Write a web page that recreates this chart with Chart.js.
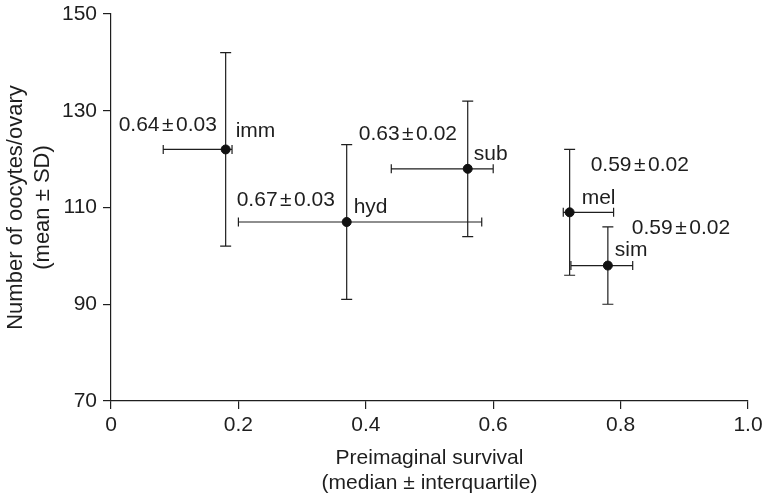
<!DOCTYPE html>
<html>
<head>
<meta charset="utf-8">
<script src="https://cdn.jsdelivr.net/npm/chart.js@4.4.1/dist/chart.umd.min.js"></script>
<style>
  html, body { margin: 0; padding: 0; background: #fff; }
  canvas { display: block; }
</style>
</head>
<body>
<canvas id="survivalChart" width="762" height="500"></canvas>
<script>
// species codes
const species = ["imm", "hyd", "sub", "mel", "sim"];
// preimaginal survival: median with interquartile range
const survivalMedian = [0.18, 0.37, 0.56, 0.72, 0.78];
const survivalLow = [0.082, 0.20, 0.44, 0.71, 0.722];
const survivalHigh = [0.19, 0.582, 0.60, 0.789, 0.819];
// oocytes per ovary: mean and SD
const oocyteMean = [122, 107, 118, 109, 98];
const oocyteSD = [20, 16, 14, 13, 8];
// value printed next to each species
const printedValue = [0.64, 0.67, 0.63, 0.59, 0.59];
const printedError = [0.03, 0.03, 0.02, 0.02, 0.02];

const xTicks = [0, 0.2, 0.4, 0.6, 0.8, 1.0];
const yTicks = [70, 90, 110, 130, 150];

// where the two text labels sit relative to each point (px)
const valueOffset = [[-107, -24], [-110, -22], [-109, -35], [21, -47], [24, -37]];
const nameOffset = [[10, -18], [7, -15], [6, -15], [12, -14], [7, -15]];

const ink = "#1e1e1e";
const fontFamily = '"Liberation Sans", Arial, Helvetica, sans-serif';
Chart.defaults.font.family = fontFamily;
Chart.defaults.color = ink;

// whiskers in both directions, drawn under the points
const errorBars = {
  id: "errorBars",
  beforeDatasetsDraw(chart) {
    const { ctx, scales: { x, y } } = chart;
    ctx.save();
    ctx.strokeStyle = ink;
    ctx.lineWidth = 1.2;
    species.forEach((s, i) => {
      const px = x.getPixelForValue(survivalMedian[i]);
      const py = y.getPixelForValue(oocyteMean[i]);
      const xl = x.getPixelForValue(survivalLow[i]);
      const xr = x.getPixelForValue(survivalHigh[i]);
      const yt = y.getPixelForValue(oocyteMean[i] + oocyteSD[i]);
      const yb = y.getPixelForValue(oocyteMean[i] - oocyteSD[i]);
      ctx.beginPath();
      ctx.moveTo(xl, py); ctx.lineTo(xr, py);
      ctx.moveTo(xl, py - 4.5); ctx.lineTo(xl, py + 4.5);
      ctx.moveTo(xr, py - 4.5); ctx.lineTo(xr, py + 4.5);
      ctx.moveTo(px, yt); ctx.lineTo(px, yb);
      ctx.moveTo(px - 5.5, yt); ctx.lineTo(px + 5.5, yt);
      ctx.moveTo(px - 5.5, yb); ctx.lineTo(px + 5.5, yb);
      ctx.stroke();
    });
    ctx.restore();
  },
  afterDatasetsDraw(chart) {
    const { ctx, scales: { x, y } } = chart;
    ctx.save();
    ctx.fillStyle = ink;
    ctx.font = "21px " + fontFamily;
    ctx.textBaseline = "middle";
    ctx.textAlign = "left";
    species.forEach((s, i) => {
      const px = x.getPixelForValue(survivalMedian[i]);
      const py = y.getPixelForValue(oocyteMean[i]);
      // "0.64 ± 0.03" with tight spacing round the sign
      let tx = px + valueOffset[i][0];
      const ty = py + valueOffset[i][1];
      const parts = [printedValue[i].toFixed(2), "\u00b1", printedError[i].toFixed(2)];
      parts.forEach((p, k) => {
        ctx.fillText(p, tx, ty);
        tx += ctx.measureText(p).width + (k < 2 ? 2.5 : 0);
      });
      ctx.fillText(s, px + nameOffset[i][0], py + nameOffset[i][1]);
    });
    ctx.restore();
  }
};

new Chart(document.getElementById("survivalChart"), {
  type: "scatter",
  data: {
    datasets: [{
      data: species.map((s, i) => ({ x: survivalMedian[i], y: oocyteMean[i] })),
      backgroundColor: "#111",
      borderColor: "#111",
      pointRadius: 4.5,
      pointHoverRadius: 4.5
    }]
  },
  options: {
    responsive: false,
    animation: false,
    events: [],
    layout: { padding: { top: 14, right: 14, left: 0, bottom: 0 } },
    plugins: { legend: { display: false }, tooltip: { enabled: false } },
    scales: {
      x: {
        type: "linear",
        min: 0,
        max: 1,
        afterFit: s => { s.height = 99; s.paddingLeft = 0; s.paddingRight = 0; },
        afterBuildTicks: s => { s.ticks = xTicks.map(v => ({ value: v })); },
        grid: { drawOnChartArea: false, tickLength: 8, color: ink, lineWidth: 1.2 },
        border: { color: ink, width: 1.2 },
        ticks: {
          font: { size: 21 },
          color: ink,
          padding: 4,
          maxRotation: 0,
          callback: v => (v === 0 ? "0" : v.toFixed(1))
        },
        title: {
          display: true,
          text: ["Preimaginal survival", "(median \u00b1 interquartile)"],
          font: { size: 21 },
          color: ink,
          padding: { top: 0, bottom: 4 }
        }
      },
      y: {
        type: "linear",
        min: 70,
        max: 150,
        afterFit: s => { s.width = 111; s.paddingTop = 0; s.paddingBottom = 0; },
        afterBuildTicks: s => { s.ticks = yTicks.map(v => ({ value: v })); },
        grid: { drawOnChartArea: false, tickLength: 8, color: ink, lineWidth: 1.2 },
        border: { color: ink, width: 1.2 },
        ticks: { font: { size: 21 }, color: ink, padding: 6 },
        title: {
          display: true,
          text: ["Number of oocytes/ovary", "(mean \u00b1 SD)"],
          font: { size: 22 },
          color: ink,
          padding: { top: 3, bottom: 0 }
        }
      }
    }
  },
  plugins: [errorBars]
});
</script>
</body>
</html>
